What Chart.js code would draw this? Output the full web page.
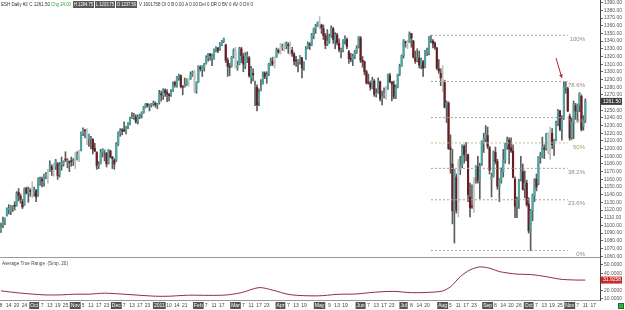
<!DOCTYPE html>
<html><head><meta charset="utf-8">
<script src="https://cdn.jsdelivr.net/npm/chart.js@4.4.1/dist/chart.umd.min.js"></script>
<style>html,body{margin:0;padding:0;background:#fff;overflow:hidden}canvas{display:block}</style>
</head><body>
<canvas id="c" width="625" height="310" style="width:625px;height:310px"></canvas>
<script>
// ---------- categories (trading days) ----------
const months = ['2010-09','2010-10','2010-11','2010-12','2011-01','2011-02','2011-03','2011-04','2011-05','2011-06','2011-07','2011-08','2011-09','2011-10','2011-11'];
const monthDays = [
 [8,9,10,13,14,15,16,17,20,21,22,23,24,27,28,29,30],
 [1,4,5,6,7,8,11,12,13,14,15,18,19,20,21,22,25,26,27,28,29],
 [1,2,3,4,5,8,9,10,11,12,15,16,17,18,19,22,23,24,26,29,30],
 [1,2,3,6,7,8,9,10,13,14,15,16,17,20,21,22,23,27,28,29,30,31],
 [3,4,5,6,7,10,11,12,13,14,18,19,20,21,24,25,26,27,28,31],
 [1,2,3,4,7,8,9,10,11,14,15,16,17,18,22,23,24,25,28],
 [1,2,3,4,7,8,9,10,11,14,15,16,17,18,21,22,23,24,25,28,29,30,31],
 [1,4,5,6,7,8,11,12,13,14,15,18,19,20,21,25,26,27,28,29],
 [2,3,4,5,6,9,10,11,12,13,16,17,18,19,20,23,24,25,26,27,31],
 [1,2,3,6,7,8,9,10,13,14,15,16,17,20,21,22,23,24,27,28,29,30],
 [1,5,6,7,8,11,12,13,14,15,18,19,20,21,22,25,26,27,28,29],
 [1,2,3,4,5,8,9,10,11,12,15,16,17,18,19,22,23,24,25,26,29,30,31],
 [1,2,6,7,8,9,12,13,14,15,16,19,20,21,22,23,26,27,28,29,30],
 [3,4,5,6,7,10,11,12,13,14,17,18,19,20,21,24,25,26,27,28,31],
 [1,2,3,4,7,8,9,10,11,14,15,16,17,18,21,22]
];

// ---------- OHLC (ES daily) ----------
const opens = [
 1093,1101,1104,1113,1121,1119,1124,1126,1126,1143,1138,1131,1127,1148,1142,1145,1146,
 1143,1145,1139,1159,1160,1156,1165,1163,1171,1177,1177,1177,1180,1166,1180,1180,1186,1182,1183,1184,1182,
 1185,1186,1193,1198,1220,1224,1224,1213,1212,1212,1200,1195,1178,1181,1196,1197,1194,1181,1197,1189,1185,
 1184,1206,1220,1224,1224,1223,1229,1233,1240,1240,1241,1235,1242,1244,1247,1254,1258,1255,1257,1258,1259,1257,
 1260,1271,1269,1276,1273,1270,1270,1275,1286,1282,1292,1295,1281,1281,1284,1289,1291,1297,1298,1277,
 1287,1306,1303,1306,1311,1318,1323,1318,1317,1328,1331,1329,1335,1340,1335,1315,1307,1307,1321,
 1327,1305,1310,1330,1320,1308,1320,1318,1292,1298,1280,1280,1260,1276,1285,1298,1293,1298,1310,1314,1309,1319,1328,
 1327,1332,1331,1334,1335,1334,1328,1323,1315,1313,1315,1318,1305,1318,1331,1336,1335,1347,1356,1360,
 1364,1361,1356,1347,1336,1340,1347,1356,1341,1348,1337,1328,1329,1341,1342,1326,1317,1316,1320,1326,1333,
 1344,1315,1313,1300,1286,1285,1279,1288,1271,1273,1287,1265,1269,1268,1278,1295,1287,1283,1268,1280,1297,1308,
 1321,1339,1337,1339,1350,1340,1318,1315,1318,1309,1313,1306,1326,1325,1344,1340,1337,1331,1304,1298,
 1292,1286,1254,1259,1201,1180,1120,1163,1120,1173,1179,1203,1193,1192,1137,1125,1124,1162,1176,1158,1180,1209,1213,
 1217,1201,1160,1164,1195,1183,1150,1159,1170,1185,1204,1211,1201,1197,1160,1125,1134,1160,1170,1148,1155,
 1128,1093,1119,1139,1160,1155,1189,1190,1201,1200,1219,1195,1220,1205,1211,1233,1249,1225,1240,1280,1278,
 1242,1215,1234,1256,1250,1257,1268,1229,1237.5
];
const highs = [
 1103,1111,1110,1123,1127,1126,1126,1131,1144,1148,1141,1134,1149,1150,1150,1148,1157,
 1150,1147,1162,1163,1163,1167,1169,1173,1184,1179,1181,1186,1182,1182,1189,1184,1196,1187,1184,1189,1187,
 1195,1196,1198,1222,1227,1225,1226,1219,1216,1213,1207,1196,1183,1199,1200,1198,1195,1199,1198,1190,1187,
 1208,1222,1226,1226,1235,1229,1234,1241,1247,1246,1244,1244,1245,1248,1255,1259,1259,1258,1259,1262,1261,1259,
 1276,1275,1278,1278,1277,1272,1277,1287,1288,1294,1297,1296,1282,1292,1291,1292,1300,1301,1302,1287,
 1308,1308,1308,1311,1321,1324,1324,1323,1330,1333,1332,1338,1341,1344,1336,1318,1311,1320,1330,
 1332,1314,1332,1332,1324,1325,1326,1320,1307,1304,1288,1283,1278,1290,1300,1300,1300,1311,1318,1319,1320,1331,1330,
 1337,1336,1338,1339,1338,1339,1332,1325,1320,1316,1321,1319,1313,1333,1339,1338,1350,1357,1362,1365,
 1372,1362,1361,1350,1355,1349,1360,1358,1351,1350,1343,1331,1342,1347,1344,1328,1324,1323,1328,1334,1346,
 1346,1320,1314,1302,1297,1288,1293,1290,1278,1292,1288,1275,1279,1281,1297,1298,1287,1288,1283,1297,1310,1322,
 1342,1340,1341,1352,1350,1341,1327,1330,1327,1318,1315,1328,1331,1346,1347.5,1342,1339,1332,1316,1304,
 1308,1289,1262,1261,1218,1199,1173,1167,1186,1190,1205,1205,1208,1193,1155,1153,1162,1178,1190,1181,1210,1220,1230,
 1228,1203,1168,1197,1202,1186,1161,1175,1199,1207,1215,1214,1214,1205,1163,1137,1160,1190,1180,1171,1159,
 1136,1121,1141,1161,1167,1190,1195,1215,1205,1220,1221,1228,1226,1212,1236,1251,1250,1243,1287.75,1287,1280,
 1245,1240,1262,1259,1258,1273,1270,1243,1264.75
];
const lows = [
 1091,1097,1101,1112,1115,1114,1118,1120,1125,1132,1129,1122,1126,1141,1130,1138,1136,
 1138,1131,1138,1152,1150,1151,1161,1155,1170,1165,1164,1173,1160,1163,1172,1177,1183,1175,1170,1177,1178,
 1174,1185,1183,1197,1217,1214,1205,1203,1200,1193,1196,1173,1174,1180,1189,1184,1176,1180,1188,1174,1173,
 1183,1204,1216,1218,1222,1219,1226,1231,1239,1238,1233,1232,1239,1240,1246,1253,1254,1249,1254,1256,1254,1252,
 1258,1262,1264,1268,1261,1262,1268,1274,1280,1280,1289,1279,1270,1280,1282,1281,1290,1294,1273,1272,
 1286,1301,1294,1301,1310,1314,1315,1308,1316,1326,1325,1328,1334,1338,1312,1294,1295,1306,1318,
 1305,1302,1309,1312,1300,1304,1312,1293,1285,1288,1256,1249,1256,1275,1284,1291,1285,1295,1308,1308,1305,1319,1324,
 1323,1328,1327,1330,1324,1322,1320,1309,1307,1300,1310,1292,1302,1316,1330,1329,1334,1343,1350,1359,
 1356,1350,1342,1330,1334,1337,1345,1337,1330,1335,1326,1318,1326,1336,1330,1311,1313,1308,1317,1324,1331,
 1312,1306,1296,1284,1284,1276,1278,1268,1267,1272,1262,1257,1266,1264,1277,1286,1262,1265,1265,1279,1295,1307,
 1318,1332,1330,1338,1332,1318,1311,1313,1305,1304,1294,1305,1321,1322,1338,1331,1329,1303,1298,1282,
 1274,1253,1234,1199,1168,1102,1077,1116,1111,1166,1175,1181,1184,1131,1111,1122,1117,1155,1155,1135,1178,1195,1209,
 1200,1167,1137,1163,1180,1147,1131,1155,1163,1181,1199,1180,1195,1162,1110,1110,1122,1158,1146,1136,1125,
 1090,1067.25,1106,1131,1145,1153,1181,1188,1187,1198,1193,1186,1200,1191,1210,1230,1223,1211,1238,1272,1248,
 1211,1212,1213,1238,1236,1248,1223,1224,1233.75
];
const closes = [
 1098,1104,1109,1121,1121,1125,1124,1125,1142,1139,1134,1124,1148,1142,1147,1144,1141,
 1146,1137,1160,1159,1158,1165,1165,1169,1178,1173,1176,1184,1165,1178,1180,1183,1185,1185,1182,1183,1183,
 1184,1193,1197,1221,1225,1223,1213,1218,1213,1199,1197,1178,1178,1196,1199,1197,1180,1198,1189,1187,1180,
 1206,1221,1224,1223,1223,1228,1233,1240,1240,1241,1235,1242,1243,1247,1254,1258,1256,1257,1258,1259,1257,1257,
 1271,1270,1276,1273,1271,1269,1274,1285,1283,1293,1295,1281,1280,1283,1290,1291,1296,1299,1276,1286,
 1307,1304,1307,1310,1319,1324,1321,1321,1329,1332,1328,1336,1340,1343,1315,1307,1306,1319,1327,
 1306,1308,1330,1321,1310,1321,1320,1295,1304,1296,1282,1257,1273,1279,1298,1294,1297,1310,1314,1310,1319,1328,1326,
 1332,1333,1333,1336,1334,1328,1324,1314,1314,1315,1320,1305,1313,1330,1337,1335,1347,1356,1360,1364,
 1361,1357,1347,1335,1340,1346,1357,1342,1348,1338,1329,1329,1341,1344,1333,1317,1316,1320,1326,1331,1345,
 1315,1313,1300,1286,1285,1280,1289,1271,1272,1288,1265,1268,1272,1278,1296,1287,1284,1268,1280,1297,1307,1321,
 1340,1338,1339,1349,1344,1319,1314,1318,1309,1316,1305,1327,1326,1344,1345,1337,1332,1305,1301,1292,
 1287,1254,1260,1200,1199,1119,1172,1120,1172,1178,1204,1192,1194,1140,1123,1124,1162,1177,1159,1177,1210,1213,1219,
 1203,1172,1163,1196,1183,1151,1160,1170,1185,1205,1212,1200,1197,1163,1125,1132,1158,1170,1147,1155,1127,
 1093,1119,1139,1159,1150,1190,1191,1202,1199,1219,1196,1220,1205,1211,1233,1250,1225,1238,1280,1281,1249,
 1214,1234,1257,1249,1257,1271,1225,1237.5,1261.5
];

// ---------- ATR (20, simple) ----------
const atrDates = ['2010-09-08','2010-09-22','2010-10-08','2010-10-21','2010-11-01','2010-11-10','2010-11-22','2010-12-08','2010-12-30','2011-01-10','2011-01-25','2011-02-08','2011-02-22','2011-03-04','2011-03-17','2011-03-28','2011-04-08','2011-04-29','2011-05-13','2011-05-27','2011-06-10','2011-06-24','2011-07-08','2011-07-22','2011-08-01','2011-08-05','2011-08-12','2011-08-19','2011-08-26','2011-09-02','2011-09-12','2011-09-23','2011-10-04','2011-10-14','2011-10-25','2011-11-04','2011-11-11'];
const atrValues = [19.1,16.5,14.4,14.4,15.2,15.2,16.4,15,12.8,12.8,14,13.8,14.2,17,23,20,14.6,13.2,15,15.5,17.5,18.5,17,17.5,19,24,36,44,47.5,46,42,39,38.5,36,33,32,31.93];
const atrLast = '31.9258';

// ---------- Fibonacci retracement ----------
const fibLabels = ['0%','23.6%','38.2%','50%','61.8%','78.6%','100%'];
const fibLevels = [1067.25,1133.4,1174.3,1207.4,1240.4,1287.5,1347.5];
const fibFrom = '2011-07-22', fibTo = '2011-10-31';
const arrowFrom = ['2011-10-21', 1318], arrowTo = ['2011-10-26', 1292];

// ---------- axis ticks ----------
const priceTicks = [1390,1380,1370,1360,1350,1340,1330,1320,1310,1300,1290,1280,1270,1260,1250,1240,1230,1220,1210,1200,1190,1180,1170,1160,1150,1140,1130,1120,1110,1100,1090,1080,1070,1060];
const atrTicks = [50,40,30,20,10];
const xTickDates = ['2010-09-08','2010-09-14','2010-09-20','2010-09-24','2010-10-01','2010-10-07','2010-10-13','2010-10-19','2010-10-25','2010-11-01','2010-11-05','2010-11-11','2010-11-17','2010-11-23','2010-12-01','2010-12-07','2010-12-13','2010-12-17','2010-12-23','2011-01-03','2011-01-10','2011-01-14','2011-01-21','2011-02-01','2011-02-07','2011-02-11','2011-02-17','2011-03-01','2011-03-07','2011-03-11','2011-03-17','2011-03-23','2011-04-01','2011-04-07','2011-04-13','2011-04-19','2011-05-02','2011-05-09','2011-05-13','2011-05-19','2011-06-01','2011-06-07','2011-06-13','2011-06-17','2011-06-23','2011-07-01','2011-07-08','2011-07-14','2011-07-20','2011-08-01','2011-08-05','2011-08-11','2011-08-17','2011-08-23','2011-09-01','2011-09-08','2011-09-14','2011-09-20','2011-09-26','2011-10-03','2011-10-07','2011-10-13','2011-10-19','2011-10-25','2011-11-01','2011-11-07','2011-11-11','2011-11-17'];
const xTickTexts = ['8','14','20','24','Oct','7','13','19','25','Nov','5','11','17','23','Dec','7','13','17','23','2011','10','14','21','Feb','7','11','17','Mar','7','11','17','23','Apr','7','13','19','May','9','13','19','Jun','7','13','17','23','Jul','8','14','20','Aug','5','11','17','23','Sep','8','14','20','26','Oct','7','13','19','25','Nov','7','11','17'];

// ---------- header ----------
const headerParts = [
 {t:'ESH Daily #2 C 1261.50', c:'#333', x:1, w:49},
 {t:'Chg 24.00', c:'#2e9e3a', x:51, w:20},
 {t:'H 1264.75', c:'#fff', x:74, w:19, box:true},
 {t:'L 1233.75', c:'#fff', x:96, w:18, box:true},
 {t:'O 1237.50', c:'#fff', x:117, w:19, box:true},
 {t:'V 1601758 OI 0 B 0.00 A 0.00 Del 0 DR 0 BV 0 AV 0 DV 0', c:'#333', x:139, w:114}
];

// ================= build =================
const dates = months.flatMap((m, i) => monthDays[i].map(d => m + '-' + String(d).padStart(2, '0')));
const N = closes.length;
const xLabelMap = {};
xTickDates.forEach((d, i) => { xLabelMap[d] = xTickTexts[i]; });
const FONT = '"Liberation Sans", Arial, sans-serif';
Chart.defaults.font.family = FONT;
const isMonthLabel = l => typeof l === 'string' && (isNaN(+l) || l === '2011');

const UP = '#4ea6a4', DOWN = '#6a1d20', OUT = '#c9c9c9';
function barColor(i) {
  if (i >= N) return UP;
  if (i > 0 && highs[i] > highs[i-1] && lows[i] < lows[i-1]) return OUT;
  return closes[i] >= opens[i] ? UP : DOWN;
}
const bodies = closes.map((c, i) => [opens[i], c]);
const wicks = closes.map((c, i) => [lows[i], highs[i]]);

const fibSets = fibLevels.map((lv, i) => ({
  type: 'line', yAxisID: 'yP', order: 0,
  data: [{x: fibFrom, y: lv}, {x: fibTo, y: lv}],
  borderColor: fibLabels[i] === '50%' ? '#c9bb8e' : '#a2a2a2',
  borderWidth: 1, borderDash: [2, 2], pointRadius: 0
}));

const overlay = {
  id: 'overlay',
  afterDatasetsDraw(chart) {
    const {ctx, scales: {x, yP}} = chart;
    ctx.save();
    ctx.font = '6px ' + FONT;
    ctx.textAlign = 'right'; ctx.textBaseline = 'top';
    fibLevels.forEach((lv, i) => {
      const y = yP.getPixelForValue(lv);
      ctx.fillStyle = fibLabels[i] === '50%' ? '#ab9c68' : '#8a8a8a';
      ctx.fillText(fibLabels[i], 585, y + 1);
    });
    // arrow
    const x1 = x.getPixelForValue(dates.indexOf(arrowFrom[0])), y1 = yP.getPixelForValue(arrowFrom[1]);
    const x2 = x.getPixelForValue(dates.indexOf(arrowTo[0])), y2 = yP.getPixelForValue(arrowTo[1]);
    ctx.strokeStyle = '#b3262a'; ctx.fillStyle = '#b3262a'; ctx.lineWidth = 1;
    ctx.beginPath(); ctx.moveTo(x1, y1); ctx.lineTo(x2, y2); ctx.stroke();
    const a = Math.atan2(y2 - y1, x2 - x1), L = 4;
    ctx.beginPath(); ctx.moveTo(x2, y2);
    ctx.lineTo(x2 - L * Math.cos(a - 0.5), y2 - L * Math.sin(a - 0.5));
    ctx.lineTo(x2 - L * Math.cos(a + 0.5), y2 - L * Math.sin(a + 0.5));
    ctx.closePath(); ctx.fill();
    ctx.restore();
  },
  afterDraw(chart) {
    const {ctx, chartArea, scales: {yP, yA}} = chart;
    ctx.save();
    // panel separator
    ctx.strokeStyle = '#9a9a9a'; ctx.lineWidth = 1;
    ctx.beginPath(); ctx.moveTo(0, Math.round(yA.top) + 0.5); ctx.lineTo(chartArea.right, Math.round(yA.top) + 0.5); ctx.stroke();
    // header
    ctx.font = '5px ' + FONT; ctx.textBaseline = 'middle'; ctx.textAlign = 'left';
    headerParts.forEach(p => {
      if (p.box) { ctx.fillStyle = '#5a5a5a'; ctx.fillRect(p.x - 1, 1, p.w + 2, 7); }
      ctx.fillStyle = p.c; ctx.fillText(p.t, p.x, 4.5, p.w);
    });
    // ATR title
    ctx.fillStyle = '#444';
    ctx.fillText('Average True Range  (Smp, 20)', 2, yA.top + 7, 66);
    // current price box
    const py = yP.getPixelForValue(closes[N - 1]);
    ctx.fillStyle = '#3d3d3d'; ctx.fillRect(chartArea.right + 1, py - 3.5, 21, 7);
    ctx.fillStyle = '#fff'; ctx.fillText(closes[N - 1].toFixed(2), chartArea.right + 3, py);
    // current ATR box
    const ay = yA.getPixelForValue(atrValues[atrValues.length - 1]);
    ctx.fillStyle = '#cc2a2a'; ctx.fillRect(chartArea.right + 1, ay - 3.5, 21, 7);
    ctx.fillStyle = '#fff'; ctx.fillText(atrLast, chartArea.right + 3, ay);
    // green status square
    ctx.fillStyle = '#2fae4a'; ctx.fillRect(618, 303, 6, 6);
    ctx.strokeStyle = '#1e6e2e'; ctx.strokeRect(618.5, 303.5, 5, 5);
    ctx.restore();
  }
};

new Chart(document.getElementById('c'), {
  type: 'bar',
  data: {
    labels: dates,
    datasets: [
      { data: bodies, yAxisID: 'yP', grouped: false, order: 1, barThickness: 1.5, minBarLength: 1,
        backgroundColor: c => barColor(c.dataIndex) },
      { data: wicks, yAxisID: 'yP', grouped: false, order: 2, barThickness: 1,
        backgroundColor: c => barColor(c.dataIndex) === OUT ? '#bdbdbd' : '#5c5c5c' },
      ...fibSets,
      { type: 'line', yAxisID: 'yA', order: 0,
        data: atrDates.map((d, i) => ({x: d, y: atrValues[i]})),
        borderColor: '#8e2f38', borderWidth: 1, pointRadius: 0, tension: 0.3 }
    ]
  },
  options: {
    responsive: false, animation: false,
    layout: { padding: 0 },
    plugins: { legend: {display: false}, tooltip: {enabled: false} },
    scales: {
      x: {
        type: 'category', offset: true,
        grid: { display: false, drawTicks: false, tickLength: 0 },
        border: { display: true, color: '#9a9a9a' },
        ticks: {
          autoSkip: false, maxRotation: 0, minRotation: 0, padding: 3,
          font: { size: 5 },
          callback: (v, i) => (xLabelMap[dates[i]] !== undefined ? xLabelMap[dates[i]] : null),
          color: c => (c.tick && isMonthLabel(c.tick.label)) ? '#fff' : '#444',
          showLabelBackdrop: c => !!(c.tick && isMonthLabel(c.tick.label)),
          backdropColor: '#555',
          backdropPadding: { top: 1, bottom: 0, left: 1, right: 1 }
        },
        afterFit: s => { s.height = 10; s.paddingLeft = 0; s.paddingRight = 0; }
      },
      yP: {
        type: 'linear', position: 'right', stack: 'v', stackWeight: 257,
        min: 1058.9, max: 1393.5,
        afterBuildTicks: s => { s.ticks = priceTicks.map(v => ({value: v})); },
        grid: { drawOnChartArea: false, drawTicks: true, tickLength: 3, tickColor: '#666' },
        border: { display: true, color: '#444' },
        ticks: { autoSkip: false, padding: 1, font: { size: 5 }, color: '#555', callback: v => Number(v).toFixed(2) },
        afterFit: s => { s.width = 25; s.paddingTop = 0; s.paddingBottom = 0; }
      },
      yA: {
        type: 'linear', position: 'right', stack: 'v', stackWeight: 43,
        min: 8.3, max: 59.3,
        afterBuildTicks: s => { s.ticks = atrTicks.map(v => ({value: v})); },
        grid: { drawOnChartArea: false, drawTicks: true, tickLength: 3, tickColor: '#666' },
        border: { display: true, color: '#444' },
        ticks: { autoSkip: false, padding: 1, font: { size: 5 }, color: '#555', callback: v => Number(v).toFixed(4) },
        afterFit: s => { s.width = 25; s.paddingTop = 0; s.paddingBottom = 0; }
      }
    }
  },
  plugins: [overlay]
});
</script>
</body></html>
